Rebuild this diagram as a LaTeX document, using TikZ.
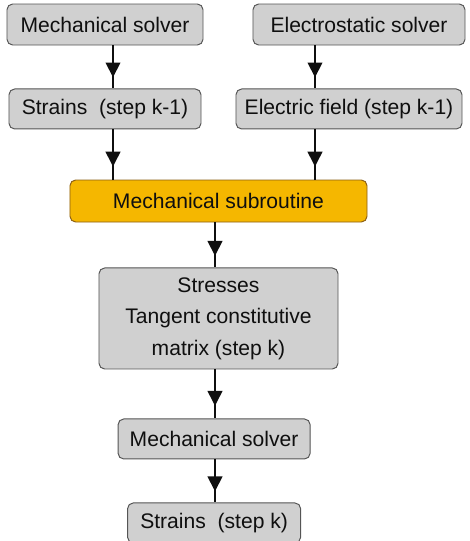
\documentclass[tikz,border=0pt]{standalone}
\usepackage{fontspec}
\setmainfont{Liberation Sans}
\usetikzlibrary{positioning,arrows.meta,decorations.markings}
\definecolor{boxgray}{RGB}{208,208,208}
\definecolor{boxrule}{RGB}{85,85,85}
\definecolor{subfill}{RGB}{245,183,0}
\definecolor{subrule}{RGB}{140,95,20}
\definecolor{ink}{RGB}{15,15,15}

\begin{document}
\begin{tikzpicture}[
  x=0.25mm,y=-0.25mm,
  font=\fontsize{15}{22.5}\selectfont,
  stage/.style={draw=boxrule,fill=boxgray,rounded corners=4pt,line width=0.7pt,
                minimum height=10mm,align=center,inner sep=0pt,text=ink},
  subbox/.style={stage,draw=subrule,fill=subfill},
  flow/.style={line width=1.1pt,draw=ink,postaction={decorate},
               decoration={markings,mark=at position 0.74 with
                 {\arrow[ink]{Triangle[length=3.7mm,width=3.7mm]}}}},
]
\useasboundingbox (0,0) rectangle (470,541);

\node[stage,minimum width=49mm,minimum height=10.25mm] (mech) at (105,24.5) {Mechanical solver};
\node[stage,minimum width=53mm,minimum height=10.25mm] (elec) at (359,24.5) {Electrostatic solver};
\node[stage,minimum width=48mm,below=10.75mm of mech] (strain) {Strains\ \ (step k-1)};
\node[stage,minimum width=56.5mm,below=10.75mm of elec,xshift=-2.5mm] (field) {Electric field (step k-1)};
\node[subbox,minimum width=74.25mm,minimum height=10.5mm] (subr) at (218.5,201) {Mechanical subroutine};
\node[stage,minimum width=59.75mm,minimum height=25.25mm,below=11.25mm of subr] (stress)
     {Stresses\\Tangent constitutive\\matrix (step k)};
\node[stage,minimum width=48mm,below=12.25mm of stress,xshift=-1.1mm] (mech2) {Mechanical solver};
\node[stage,minimum width=43.25mm,below=10.75mm of mech2] (strk) {Strains\ \ (step k)};

% columns the connectors run along
\coordinate (lcol) at (113,0);
\coordinate (rcol) at (315,0);
\coordinate (mcol) at (215,0);

\draw[flow] (mech.south -| lcol) -- (strain.north -| lcol);
\draw[flow] (elec.south -| rcol) -- (field.north -| rcol);
\draw[flow] (strain.south -| lcol) -- (subr.north -| lcol);
\draw[flow] (field.south -| rcol) -- (subr.north -| rcol);
\draw[flow] (subr.south -| mcol) -- (stress.north -| mcol);
\draw[flow] (stress.south -| mcol) -- (mech2.north -| mcol);
\draw[flow] (mech2.south -| mcol) -- (strk.north -| mcol);
\end{tikzpicture}
\end{document}
